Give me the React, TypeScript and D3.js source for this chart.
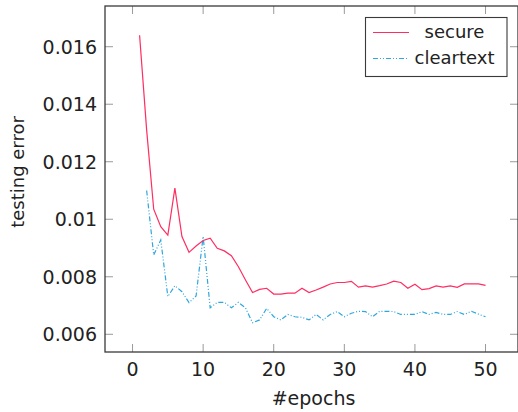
import { useEffect, useRef } from "react";
import * as d3 from "d3";

// testing error per epoch
const secureEpochs = d3.range(1, 51);
const secureError = [
  0.0164, 0.0131, 0.01035, 0.00974, 0.00945, 0.01108, 0.0094, 0.00885, 0.00907, 0.00926,
  0.00934, 0.00899, 0.0089, 0.00873, 0.00835, 0.00789, 0.00745, 0.00756, 0.0076, 0.0074,
  0.0074, 0.00743, 0.00743, 0.0076, 0.00745, 0.00754, 0.00764, 0.00775, 0.0078, 0.0078,
  0.00784, 0.00764, 0.00768, 0.00764, 0.00769, 0.00775, 0.00785, 0.0078, 0.0076, 0.00774,
  0.00755, 0.00759, 0.00768, 0.00764, 0.00768, 0.00763, 0.00775, 0.00775, 0.00775, 0.0077,
];

const clearEpochs = d3.range(2, 51);
const clearError = [
  0.0110, 0.00876, 0.00928, 0.00731, 0.00769, 0.00748, 0.0071, 0.00733, 0.0094,
  0.00692, 0.00711, 0.00711, 0.00692, 0.00711, 0.00692, 0.0064, 0.0065, 0.0069, 0.00661,
  0.0065, 0.00669, 0.00661, 0.00659, 0.0065, 0.00669, 0.0065, 0.00669, 0.00679, 0.00661,
  0.00673, 0.0068, 0.00679, 0.00661, 0.0068, 0.0068, 0.00679, 0.00669, 0.00669, 0.00669,
  0.00679, 0.00669, 0.00676, 0.00669, 0.00669, 0.00679, 0.00669, 0.0068, 0.0067, 0.00661,
];

const xTicks = [0, 10, 20, 30, 40, 50];
const yTicks = [0.006, 0.008, 0.01, 0.012, 0.014, 0.016];

const seriesNames = ["secure", "cleartext"];

export default function App() {
  const svgRef = useRef(null);

  useEffect(() => {
    const width = 518;
    const height = 412;
    const box = { left: 105, right: 518, top: 6, bottom: 352 };
    const font = "'DejaVu Sans', sans-serif";

    const svg = d3.select(svgRef.current)
      .attr("width", width)
      .attr("height", height)
      .style("background", "#fff");

    svg.selectAll("*").remove();

    const x = d3.scaleLinear().domain([-3.9, 54.6]).range([box.left, box.right]);
    const y = d3.scaleLinear().domain([0.005384, 0.017416]).range([box.bottom, box.top]);

    const fmt = (v) => v.toFixed(3).replace(/0+$/, "");

    // tick marks (inside, on all sides)
    const ticks = svg.append("g").attr("stroke", "#9a9a9a").attr("stroke-width", 1);
    xTicks.forEach((t) => {
      ticks.append("line").attr("x1", x(t)).attr("x2", x(t)).attr("y1", box.bottom).attr("y2", box.bottom - 8);
      ticks.append("line").attr("x1", x(t)).attr("x2", x(t)).attr("y1", box.top).attr("y2", box.top + 8);
    });
    yTicks.forEach((t) => {
      ticks.append("line").attr("y1", y(t)).attr("y2", y(t)).attr("x1", box.left).attr("x2", box.left + 8);
      ticks.append("line").attr("y1", y(t)).attr("y2", y(t)).attr("x1", box.right).attr("x2", box.right - 8);
    });

    // frame
    svg.append("rect")
      .attr("x", box.left)
      .attr("y", box.top)
      .attr("width", box.right - box.left)
      .attr("height", box.bottom - box.top)
      .attr("fill", "none")
      .attr("stroke", "#3a3a3a")
      .attr("stroke-width", 1.3);

    // tick labels
    svg.append("g").selectAll("text")
      .data(xTicks)
      .join("text")
      .attr("x", (d) => x(d))
      .attr("y", 376)
      .attr("text-anchor", "middle")
      .style("font-family", font)
      .style("font-size", "19px")
      .attr("fill", "#222")
      .text((d) => d);

    svg.append("g").selectAll("text")
      .data(yTicks)
      .join("text")
      .attr("x", 97)
      .attr("y", (d) => y(d))
      .attr("dy", "0.36em")
      .attr("text-anchor", "end")
      .style("font-family", font)
      .style("font-size", "19px")
      .attr("fill", "#222")
      .text(fmt);

    // axis titles
    svg.append("text")
      .attr("x", (box.left + box.right) / 2 + 2)
      .attr("y", 405)
      .attr("text-anchor", "middle")
      .style("font-family", font)
      .style("font-size", "19px")
      .attr("fill", "#222")
      .text("#epochs");

    svg.append("text")
      .attr("transform", "translate(24, 172) rotate(-90)")
      .attr("text-anchor", "middle")
      .style("font-family", font)
      .style("font-size", "18px")
      .attr("fill", "#222")
      .text("testing error");

    // lines
    const line = d3.line()
      .x((d) => x(d[0]))
      .y((d) => y(d[1]));

    svg.append("path")
      .datum(d3.zip(clearEpochs, clearError))
      .attr("fill", "none")
      .attr("stroke", "#2fa6de")
      .attr("stroke-width", 1.2)
      .attr("stroke-dasharray", "5,2,1,2,1,2")
      .attr("d", line);

    svg.append("path")
      .datum(d3.zip(secureEpochs, secureError))
      .attr("fill", "none")
      .attr("stroke", "#ff2d60")
      .attr("stroke-width", 1.2)
      .attr("d", line);

    // legend
    const legend = svg.append("g");
    legend.append("rect")
      .attr("x", 365.5)
      .attr("y", 17.5)
      .attr("width", 141.5)
      .attr("height", 59)
      .attr("fill", "#fff")
      .attr("stroke", "#3a3a3a")
      .attr("stroke-width", 1.1);

    const legendY = [32.5, 58.5];
    const legendStyle = [
      { color: "#ff2d60", dash: null },
      { color: "#2fa6de", dash: "5,2,1,2,1,2" },
    ];
    seriesNames.forEach((name, i) => {
      legend.append("line")
        .attr("x1", 373)
        .attr("x2", 409)
        .attr("y1", legendY[i])
        .attr("y2", legendY[i])
        .attr("stroke", legendStyle[i].color)
        .attr("stroke-width", 1.2)
        .attr("stroke-dasharray", legendStyle[i].dash);
      legend.append("text")
        .attr("x", 454.5)
        .attr("y", legendY[i])
        .attr("dy", "0.33em")
        .attr("text-anchor", "middle")
        .style("font-family", font)
        .style("font-size", "18px")
        .attr("fill", "#222")
        .text(name);
    });
  }, []);

  return <svg ref={svgRef} style={{ position: "absolute", left: 0, top: 0 }}></svg>;
}
